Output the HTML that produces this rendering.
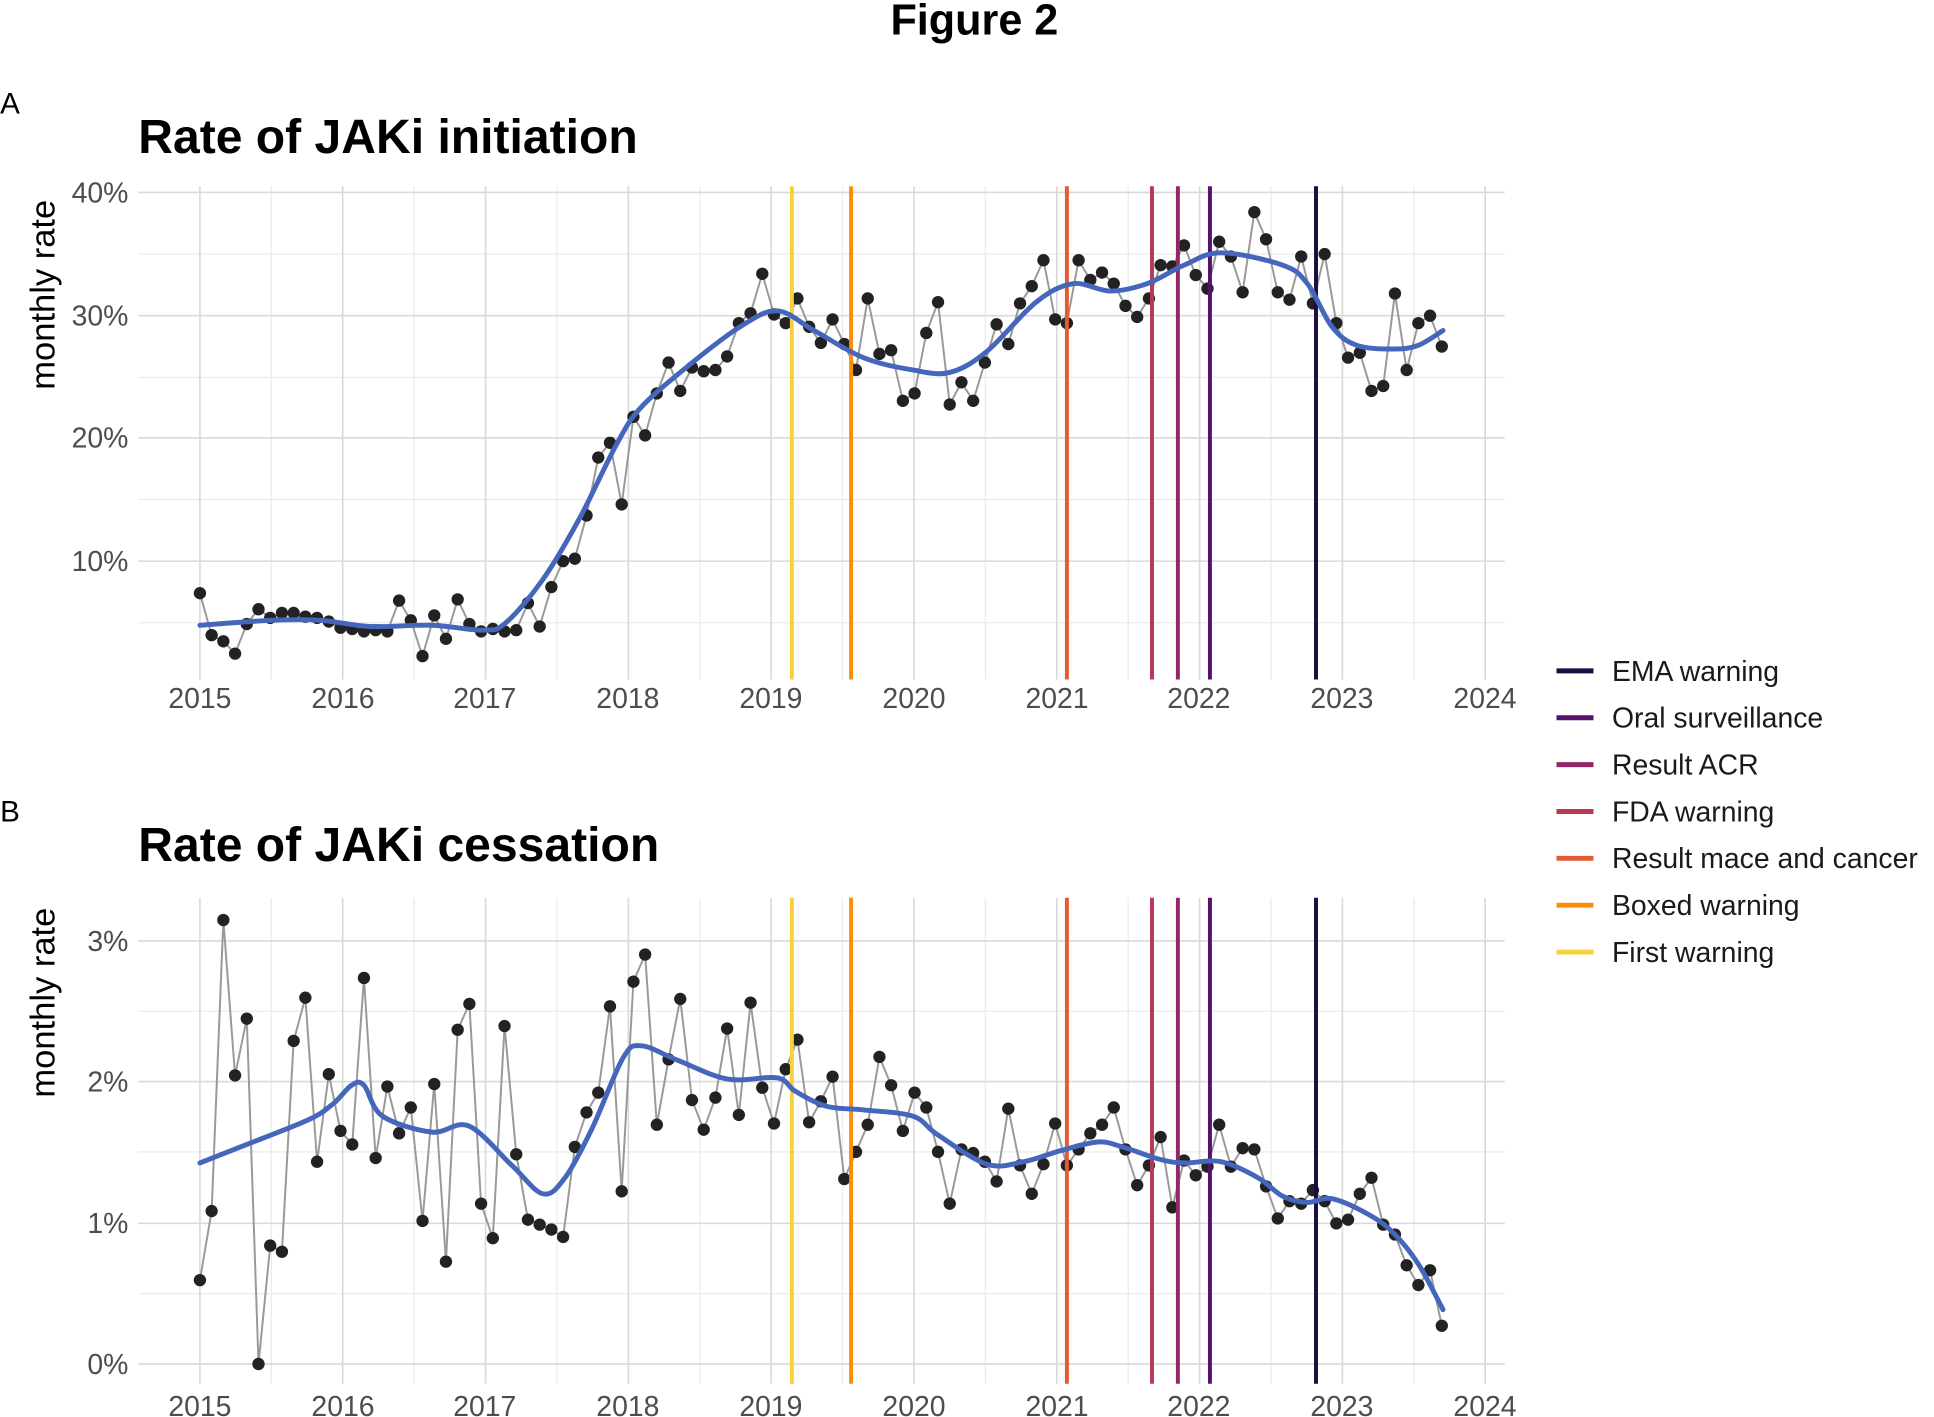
<!DOCTYPE html>
<html><head><meta charset="utf-8">
<style>
html,body{margin:0;padding:0;background:#fff;}
svg{display:block;font-family:"Liberation Sans",Arial,sans-serif;}
.tk{font-size:23px;fill:#4d4d4d;}
.lg{font-size:23px;fill:#1a1a1a;}
.tt{font-size:39px;font-weight:bold;fill:#000;}
.yl{font-size:28px;fill:#000;}
</style></head><body>
<svg id="s" width="1934" height="1417" viewBox="0 0 1568 1149" xmlns="http://www.w3.org/2000/svg">
<text x="790" y="28" text-anchor="middle" style="font-size:35px;font-weight:bold">Figure 2</text>
<text x="0" y="92" style="font-size:24px">A</text>
<text x="0" y="666" style="font-size:24px">B</text>
<text x="112" y="124" class="tt">Rate of JAKi initiation</text>
<text x="112" y="698" class="tt">Rate of JAKi cessation</text>
<text class="yl" transform="translate(44,239) rotate(-90)" text-anchor="middle">monthly rate</text>
<text class="yl" transform="translate(44,813) rotate(-90)" text-anchor="middle">monthly rate</text>
<g id="gA"></g><g id="gB"></g>
<g class="tk" text-anchor="end">
<text x="104" y="164">40%</text><text x="104" y="264">30%</text><text x="104" y="363">20%</text><text x="104" y="463">10%</text>
<text x="104" y="771">3%</text><text x="104" y="885">2%</text><text x="104" y="1000">1%</text><text x="104" y="1114">0%</text>
</g>
<g class="tk" text-anchor="middle">
<text x="162" y="574">2015</text><text x="278" y="574">2016</text><text x="393" y="574">2017</text><text x="509" y="574">2018</text><text x="625" y="574">2019</text><text x="741" y="574">2020</text><text x="857" y="574">2021</text><text x="972" y="574">2022</text><text x="1088" y="574">2023</text><text x="1204" y="574">2024</text>
<text x="162" y="1148">2015</text><text x="278" y="1148">2016</text><text x="393" y="1148">2017</text><text x="509" y="1148">2018</text><text x="625" y="1148">2019</text><text x="741" y="1148">2020</text><text x="857" y="1148">2021</text><text x="972" y="1148">2022</text><text x="1088" y="1148">2023</text><text x="1204" y="1148">2024</text>
</g>
<g class="lg">
<line x1="1262" x2="1292" y1="544" y2="544" stroke="#1B0C41" stroke-width="4"/><text x="1307" y="552">EMA warning</text>
<line x1="1262" x2="1292" y1="582" y2="582" stroke="#57106E" stroke-width="4"/><text x="1307" y="590">Oral surveillance</text>
<line x1="1262" x2="1292" y1="620" y2="620" stroke="#932667" stroke-width="4"/><text x="1307" y="628">Result ACR</text>
<line x1="1262" x2="1292" y1="658" y2="658" stroke="#BC3754" stroke-width="4"/><text x="1307" y="666">FDA warning</text>
<line x1="1262" x2="1292" y1="696" y2="696" stroke="#E45A31" stroke-width="4"/><text x="1307" y="704">Result mace and cancer</text>
<line x1="1262" x2="1292" y1="734" y2="734" stroke="#F98E09" stroke-width="4"/><text x="1307" y="742">Boxed warning</text>
<line x1="1262" x2="1292" y1="772" y2="772" stroke="#F7D03C" stroke-width="4"/><text x="1307" y="780">First warning</text>
</g>
</svg>
<script>
var NS="http://www.w3.org/2000/svg";
function el(p,t,a){var e=document.createElementNS(NS,t);for(var k in a)e.setAttribute(k,a[k]);p.appendChild(e);return e;}
var ya=[481,515,520,530,506,494,501,497,497,500,501,504,509,510,512,511,512,487,503,532,499,518,486,506,512,510,512,511,489,508,476,455,453,418,371,359,409,338,353,319,294,317,298,301,300,289,262,254,222,255,262,242,265,278,259,279,300,242,287,284,325,319,270,245,328,310,325,294,263,279,246,232,211,259,262,211,227,221,230,248,257,242,215,216,199,223,234,196,208,237,172,194,237,243,208,246,206,262,290,286,317,313,238,300,262,256,281];
var yb=[1038,982,746,872,826,1106,1010,1015,844,809,942,871,917,928,793,939,881,919,898,990,879,1023,835,814,976,1004,832,936,989,993,997,1003,930,902,886,816,966,796,774,912,859,810,892,916,890,834,904,813,882,911,867,843,910,893,873,956,934,912,857,880,917,886,898,934,976,932,935,942,958,899,945,968,944,911,945,932,919,912,898,932,961,945,922,979,941,953,946,912,946,931,932,962,988,974,976,965,974,992,989,968,955,993,1001,1026,1042,1030,1075];
var sa=[[162,507],[220,503],[260,503],[300,508],[350,507],[392,511],[410,505],[440,470],[470,420],[500,360],[520,330],[560,295],[600,265],[630,252],[660,268],[700,290],[740,300],[770,302],[800,285],[840,245],[870,230],[900,236],[930,230],[960,215],[990,205],[1040,215],[1060,230],[1080,265],[1100,280],[1130,283],[1150,280],[1170,268]];
var sb=[[162,943],[200,928],[250,908],[270,895],[285,880],[295,880],[310,905],[350,918],[380,913],[415,945],[440,968],[458,955],[480,915],[505,858],[520,848],[550,860],[590,875],[630,874],[645,885],[670,897],[700,900],[740,905],[760,920],[800,944],[830,942],[860,933],[890,926],[910,930],[940,940],[960,943],[990,942],[1020,955],[1040,970],[1060,975],[1080,972],[1110,985],[1130,1000],[1150,1025],[1170,1062]];
var vl=[[642,"#F7D03C"],[690,"#F98E09"],[865,"#E45A31"],[934,"#BC3754"],[955,"#932667"],[981,"#57106E"],[1067,"#1B0C41"]];
var DX=(1169-162)/106;
function smooth(p){var d="M"+p[0][0]+","+p[0][1];for(var i=0;i<p.length-1;i++){var p0=p[i-1]||p[i],p1=p[i],p2=p[i+1],p3=p[i+2]||p2;d+=" C"+(p1[0]+(p2[0]-p0[0])/6)+","+(p1[1]+(p2[1]-p0[1])/6)+" "+(p2[0]-(p3[0]-p1[0])/6)+","+(p2[1]-(p3[1]-p1[1])/6)+" "+p2[0]+","+p2[1];}return d;}
function panel(g,top,bot,ymaj,ymin,ys,sm){
  var i,x;
  for(i=0;i<ymin.length;i++)el(g,"line",{x1:112,x2:1220,y1:ymin[i],y2:ymin[i],stroke:"#ebebeb","stroke-width":1});
  for(i=0;i<18;i++){x=162+115.8*(i+0.5);if(x<1220)el(g,"line",{x1:x,x2:x,y1:top,y2:bot,stroke:"#ebebeb","stroke-width":1});}
  for(i=0;i<ymaj.length;i++)el(g,"line",{x1:112,x2:1220,y1:ymaj[i],y2:ymaj[i],stroke:"#d9d9d9","stroke-width":1.3});
  for(i=0;i<10;i++){x=162+115.8*i;el(g,"line",{x1:x,x2:x,y1:top,y2:bot,stroke:"#d9d9d9","stroke-width":1.3});}
  var pts=ys.map(function(y,k){return (162+k*DX)+","+y;}).join(" ");
  el(g,"polyline",{points:pts,fill:"none",stroke:"#999","stroke-width":1.6});
  ys.forEach(function(y,k){el(g,"circle",{cx:162+k*DX,cy:y,r:5,fill:"#222"});});
  vl.forEach(function(v){el(g,"line",{x1:v[0],x2:v[0],y1:top,y2:bot,stroke:v[1],"stroke-width":3.2});});
  el(g,"path",{d:smooth(sm),fill:"none",stroke:"#4466BB","stroke-width":4,"stroke-linecap":"round"});
}
panel(document.getElementById("gA"),151,551,[156,256,355,455],[206,306,405,505],ya,sa);
panel(document.getElementById("gB"),728,1122,[763,877,992,1106],[820,934,1049],yb,sb);
</script>
</body></html>
